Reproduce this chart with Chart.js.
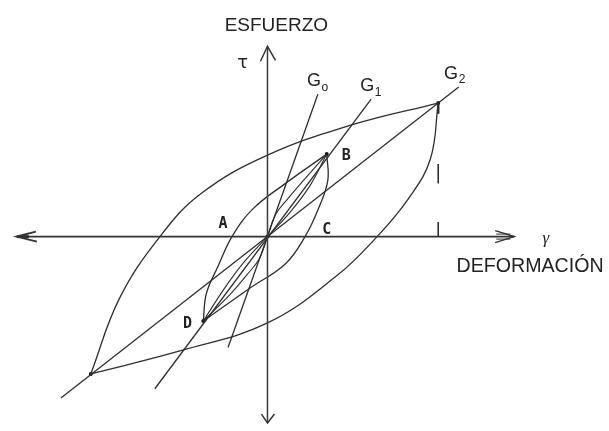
<!DOCTYPE html>
<html>
<head>
<meta charset="utf-8">
<script src="https://cdn.jsdelivr.net/npm/chart.js@4.4.1/dist/chart.umd.min.js"></script>
<style>
html,body{margin:0;padding:0;background:#fff;}
#c{display:block;}
</style>
</head>
<body>
<canvas id="c" width="609" height="431"></canvas>
<script>
// ---- data (gamma, tau) in arbitrary units; G2 peak = (10,10) ----
const bigUpper = [[-10.35,-10.29],[-8.67,-4.63],[-6.30,0],[-3.87,3.24],[0,6.10],[4.97,8.38],[10,10]];
const bigLower = [[-10.35,-10.29],[-5.03,-8.53],[0,-6.47],[4.05,-2.94],[6.42,0],[8.27,2.87],[9.54,5.81],[10,10]];
const loopA = [[-3.76,-6.32],[-3.58,-4.26],[-2.89,-2.21],[-2.08,0],[-0.87,2.06],[1.04,3.97],[3.47,6.18]];
const loopC = [[3.47,6.18],[3.53,4.19],[2.95,1.99],[2.20,0],[1.04,-2.06],[-0.98,-3.82],[-3.76,-6.32]];
const virginB1 = [[0,0],[0.46,1.62],[1.21,2.87],[2.20,4.34],[3.47,6.18]];
const virginB2 = [[0,0],[1.33,1.84],[2.49,3.82],[3.47,6.18]];
const virginD1 = [[0,0],[-0.46,-1.62],[-1.21,-2.87],[-2.20,-4.34],[-3.76,-6.32]];
const virginD2 = [[0,0],[-1.33,-1.84],[-2.49,-3.82],[-3.76,-6.32]];
const lineG0 = [[-2.31,-8.31],[2.95,10.66]];
const lineG1 = [[-6.6,-11.4],[6.07,10.3]];
const lineG2 = [[-12.1,-12.1],[11.2,11.2]];
const tickUpper = [[10,5.44],[10,3.97]];
const tickLower = [[10,1.10],[10,0]];
const peakMark = [[10,10],[10,9.2]];
const markedPoints = [[10,10],[3.47,6.18],[-3.76,-6.32],[-10.35,-10.29],[0,0]];
const axisH = [[-14.68,0],[14.45,0]];
const axisV = [[0,14.26],[0,-13.97]];
const xRange = [-15.434, 19.769];
const yRange = [-14.265, 17.426];
const labels = [
  {t:'A', x:-2.60, y:0.96, font:'bold 15px "DejaVu Sans Mono"'},
  {t:'B', x:4.62, y:6.03, font:'bold 15px "DejaVu Sans Mono"'},
  {t:'C', x:3.47, y:0.51, font:'bold 15px "DejaVu Sans Mono"'},
  {t:'D', x:-4.68, y:-6.54, font:'bold 15px "DejaVu Sans Mono"'},
  {t:'τ', x:-1.45, y:13.0, font:'18px "DejaVu Sans"'},
  {t:'γ', x:16.30, y:-0.15, font:'italic 17px "Liberation Serif"'},
  {t:'ESFUERZO', x:0.52, y:15.81, font:'19px "Liberation Sans"'},
  {t:'DEFORMACIÓN', x:15.38, y:-2.28, font:'19.6px "Liberation Sans"'}
];
const gLabels = [
  {t:'G', sub:'o', x:2.72, y:11.62},
  {t:'G', sub:'1', x:5.84, y:11.25},
  {t:'G', sub:'2', x:10.75, y:12.21}
];

const pts = a => a.map(p => ({x:p[0], y:p[1]}));
const ink = '#2e2e2e';
function ds(arr, opts){
  return Object.assign({data:pts(arr), showLine:true, borderColor:ink, borderWidth:1.3, pointRadius:0, tension:0, fill:false}, opts||{});
}

const textPlugin = {
  id:'txt',
  afterDatasetsDraw(chart){
    const ctx = chart.ctx, xs = chart.scales.x, ys = chart.scales.y;
    ctx.save();
    ctx.fillStyle = '#222';
    ctx.textAlign = 'center';
    ctx.textBaseline = 'middle';
    labels.forEach(l => {
      ctx.font = l.font;
      ctx.fillText(l.t, xs.getPixelForValue(l.x), ys.getPixelForValue(l.y));
    });
    gLabels.forEach(g => {
      const px = xs.getPixelForValue(g.x), py = ys.getPixelForValue(g.y);
      ctx.font = '18px "Liberation Sans"';
      ctx.fillText(g.t, px, py);
      ctx.font = '12px "Liberation Sans"';
      ctx.fillText(g.sub, px + 11, py + 6);
    });
    // arrowheads at axis ends
    ctx.strokeStyle = '#333';
    ctx.lineWidth = 1.5;
    const L = [xs.getPixelForValue(axisH[0][0]), ys.getPixelForValue(0)];
    const R = [xs.getPixelForValue(axisH[1][0]), ys.getPixelForValue(0)];
    const T = [xs.getPixelForValue(0), ys.getPixelForValue(axisV[0][1])];
    const B = [xs.getPixelForValue(0), ys.getPixelForValue(axisV[1][1])];
    function v(tip, a, b){ ctx.beginPath(); ctx.moveTo(a[0],a[1]); ctx.lineTo(tip[0],tip[1]); ctx.lineTo(b[0],b[1]); ctx.stroke(); }
    v(T, [T[0]-7,T[1]+15], [T[0]+8,T[1]+14]);
    v(B, [B[0]-6,B[1]-9], [B[0]+7,B[1]-9]);
    ctx.lineWidth = 2;
    v(L, [L[0]+19,L[1]-5], [L[0]+20,L[1]+5]);
    ctx.beginPath(); ctx.moveTo(L[0],L[1]); ctx.lineTo(L[0]+12,L[1]); ctx.lineWidth=3; ctx.stroke();
    ctx.lineWidth = 1.5;
    v(R, [R[0]-19,R[1]-6], [R[0]-19,R[1]+6]);
    ctx.beginPath(); ctx.moveTo(R[0]-18,R[1]-2.5); ctx.lineTo(R[0]-4,R[1]-2.5); ctx.moveTo(R[0]-18,R[1]+2.5); ctx.lineTo(R[0]-4,R[1]+2.5); ctx.lineWidth=1; ctx.stroke();
    ctx.restore();
  }
};

new Chart(document.getElementById('c'), {
  type:'scatter',
  data:{datasets:[
    ds(axisH, {borderColor:'#333', borderWidth:1.6}),
    ds(axisV, {borderColor:'#444', borderWidth:1.6}),
    ds(bigUpper, {tension:0.4}),
    ds(bigLower, {tension:0.4}),
    ds(loopA, {tension:0.4}),
    ds(loopC, {tension:0.4}),
    ds(virginB1, {tension:0.4, borderWidth:1.1}),
    ds(virginB2, {tension:0.4, borderWidth:1.1}),
    ds(virginD1, {tension:0.4, borderWidth:1.1}),
    ds(virginD2, {tension:0.4, borderWidth:1.1}),
    ds(lineG0),
    ds(lineG1),
    ds(lineG2),
    ds(tickUpper, {borderWidth:1.6}),
    ds(tickLower, {borderWidth:1.6}),
    ds(peakMark, {borderWidth:2.5}),
    {data:pts(markedPoints), showLine:false, pointRadius:2, pointBackgroundColor:'#111', pointBorderWidth:0}
  ]},
  options:{
    responsive:false, animation:false, devicePixelRatio:1,
    layout:{padding:0},
    plugins:{legend:{display:false}, tooltip:{enabled:false}},
    scales:{
      x:{type:'linear', display:false, min:xRange[0], max:xRange[1]},
      y:{type:'linear', display:false, min:yRange[0], max:yRange[1]}
    }
  },
  plugins:[textPlugin]
});
</script>
</body>
</html>
